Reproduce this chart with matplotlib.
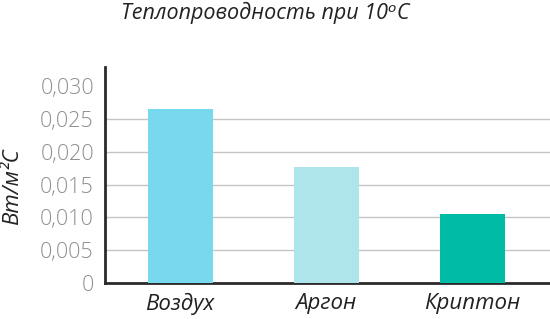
import matplotlib
matplotlib.use('Agg')
import matplotlib.pyplot as plt
from matplotlib.ticker import FuncFormatter

# данные
gases = ['Воздух', 'Аргон', 'Криптон']
conductivity = [0.0265, 0.0177, 0.0105]
bar_colors = ['#78d8ee', '#ade5eb', '#00bba6']
y_ticks = [0, 0.005, 0.010, 0.015, 0.020, 0.025, 0.030]

plt.rcParams['font.family'] = ['Open Sans', 'DejaVu Sans']

fig = plt.figure(figsize=(5.5, 3.19), dpi=100)
ax = fig.add_axes([105 / 550, 36 / 319, 445 / 550, 216 / 319])

ax.bar(range(len(gases)), conductivity, width=0.445, color=bar_colors, zorder=3)

ax.set_xlim(-0.514, 2.534)
ax.set_ylim(0, 0.0329)
ax.set_yticks(y_ticks)
ax.yaxis.set_major_formatter(FuncFormatter(
    lambda v, p: '0' if v == 0 else ('%.3f' % v).replace('.', ',')))
ax.set_xticks(range(len(gases)))
ax.set_xticklabels(gases, fontsize=16, style='italic', color='#222222')

# сетка без линии на 0,030
for t in y_ticks[1:-1]:
    ax.axhline(t, color='#c4c4c4', lw=1, zorder=1)

for side in ['top', 'right']:
    ax.spines[side].set_visible(False)
for side in ['left', 'bottom']:
    ax.spines[side].set_color('#2a2a2a')
    ax.spines[side].set_linewidth(2)

ax.tick_params(axis='both', length=0)
ax.tick_params(axis='y', pad=8, labelsize=15.5, labelcolor='#8f8f8f')
ax.tick_params(axis='x', pad=7)
for lbl in ax.get_yticklabels():
    lbl.set_fontweight('light')

ax.set_ylabel('Вт/м²C', fontsize=16, style='italic', color='#222222', va='center')
ax.yaxis.set_label_coords(-92 / 445, 0.445)

fig.text(265 / 550, 1 - 13 / 319, 'Теплопроводность при 10ᵒC',
         ha='center', va='center', fontsize=15.5, style='italic', color='#222222')

fig.savefig('out.png', dpi=100)
